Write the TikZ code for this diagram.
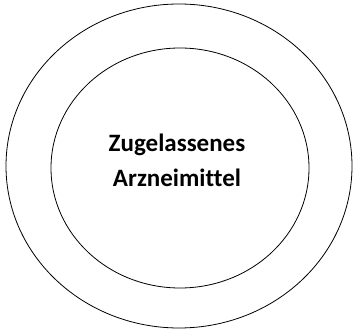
\documentclass[tikz,border=0pt]{standalone}
\usepackage{fontspec}
\setmainfont[Ligatures=NoCommon]{Carlito}
\usetikzlibrary{shapes.geometric}
\tikzset{
  ring/.style={draw=black,ellipse,line width=0.8pt,inner sep=0pt},
  drugtext/.style={font=\bfseries\fontsize{25}{35}\selectfont,align=center,text=black},
}
\begin{document}
\begin{tikzpicture}[x=1pt,y=1pt]
\useasboundingbox (0,0) rectangle (353,329);

\node[ring,minimum width=346pt,minimum height=324pt] (outer) at (179,163) {};
\node[ring,minimum width=258pt,minimum height=240pt] (inner) at (180,161) {};
\node[drugtext] (drug) at (177,169) {Zugelassenes\\Arzneimittel};

\end{tikzpicture}
\end{document}
